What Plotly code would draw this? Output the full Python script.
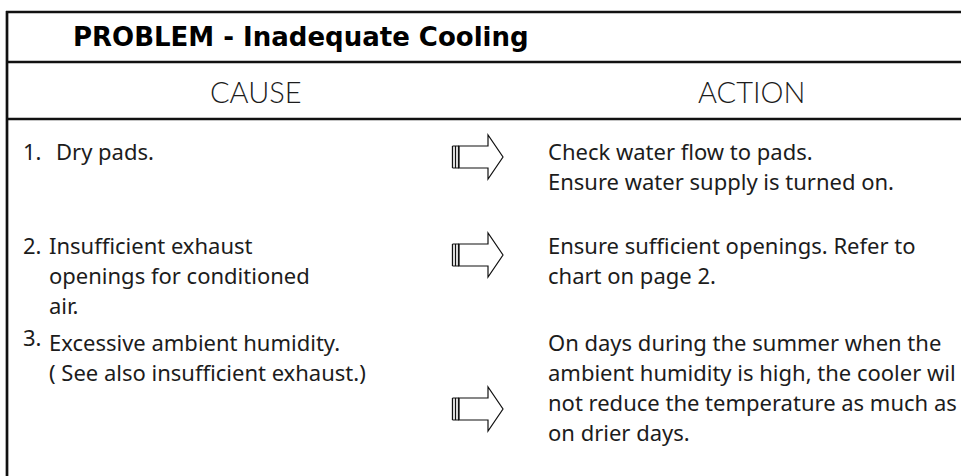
import plotly.graph_objects as go

W, H = 961, 476

title = "PROBLEM - Inadequate Cooling"
headers = ["CAUSE", "ACTION"]
header_x = [256, 751]
numbers = ["1.", "2.", "3."]
causes = [
    ["Dry pads."],
    ["Insufficient exhaust", "openings for conditioned", "air."],
    ["Excessive ambient humidity.", "( See also insufficient exhaust.)"],
]
actions = [
    ["Check water flow to pads.", "Ensure water supply is turned on."],
    ["Ensure sufficient openings. Refer to", "chart on page 2."],
    ["On days during the summer when the", "ambient humidity is high, the cooler wil",
     "not reduce the temperature as much as", "on drier days."],
]
row_top = [151, 245, 342]
cause_x = [54, 47, 47]
arrow_mid = [157, 255, 409]

FONT = "Noto Sans"
INK = "#1c1c1c"
LINE_H = 30
FS = 22

fig = go.Figure()
shapes = []
ann = []

# frame
for y in [12, 62, 119]:
    shapes.append(dict(type="line", x0=6, x1=W + 5, y0=y, y1=y, line=dict(color="#111", width=2.7)))
shapes.append(dict(type="line", x0=7, x1=7, y0=11, y1=H + 5, line=dict(color="#111", width=2.7)))

ann.append(dict(x=71, y=37, text="<b>" + title + "</b>", xanchor="left", yanchor="middle",
                font=dict(family="DejaVu Sans", size=26, color="#000")))
for hx, h in zip(header_x, headers):
    ann.append(dict(x=hx, y=91, text=h, xanchor="center", yanchor="middle",
                    font=dict(family="Lato", size=29, color=INK, weight=300)))

for i, (num, cl, al, rt, am, cx) in enumerate(zip(numbers, causes, actions, row_top, arrow_mid, cause_x)):
    ann.append(dict(x=21, y=rt - (5 if i == 2 else 0), text=num, xanchor="left", yanchor="middle",
                    font=dict(family=FONT, size=FS, color=INK)))
    for j, t in enumerate(cl):
        ann.append(dict(x=cx, y=rt + j * LINE_H, text=t, xanchor="left", yanchor="middle",
                        font=dict(family=FONT, size=FS, color=INK)))
    for j, t in enumerate(al):
        ann.append(dict(x=546, y=rt + j * LINE_H, text=t, xanchor="left", yanchor="middle",
                        font=dict(family=FONT, size=FS, color=INK)))
    # arrow
    b, hd = 11, 22
    path = (f"M 459 {am-b} L 488 {am-b} L 488 {am-hd} L 503 {am} L 488 {am+hd} "
            f"L 488 {am+b} L 459 {am+b} Z")
    shapes.append(dict(type="path", path=path, line=dict(color="#111", width=1.2), fillcolor="white"))
    for lx in [452.5, 455.5, 458.5]:
        shapes.append(dict(type="line", x0=lx, x1=lx, y0=am - b, y1=am + b, line=dict(color="#111", width=1.3)))
    shapes.append(dict(type="line", x0=452.5, x1=459, y0=am - b, y1=am - b, line=dict(color="#111", width=1)))
    shapes.append(dict(type="line", x0=452.5, x1=459, y0=am + b, y1=am + b, line=dict(color="#111", width=1)))

for a in ann:
    a.update(xref="x", yref="y", showarrow=False)

fig.update_layout(
    width=W, height=H, margin=dict(l=0, r=0, t=0, b=0),
    paper_bgcolor="white", plot_bgcolor="white",
    xaxis=dict(range=[0, W], visible=False, fixedrange=True),
    yaxis=dict(range=[H, 0], visible=False, fixedrange=True),
    shapes=shapes, annotations=ann, showlegend=False,
)
fig.write_html("out.html", config={"displayModeBar": False},
               post_script="document.body.style.margin='0px';")
